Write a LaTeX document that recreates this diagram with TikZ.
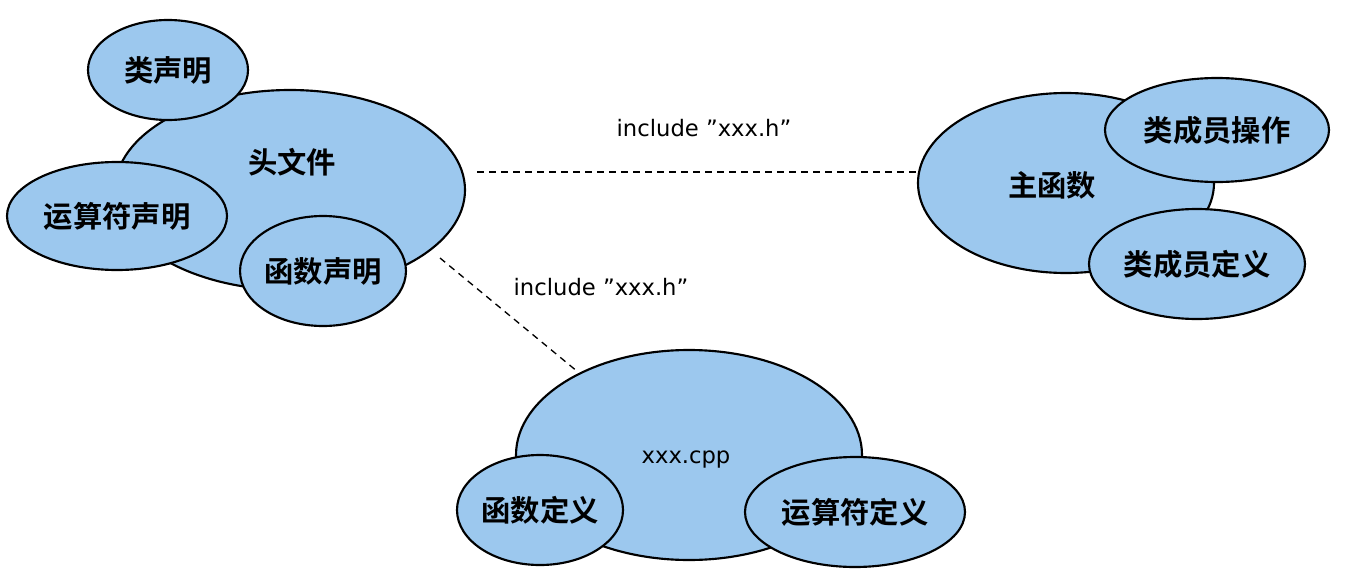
\documentclass[tikz,border=0pt]{standalone}
\usepackage{fontspec}
\newfontfamily\cjk{Noto Sans CJK SC}[BoldFont={Noto Sans CJK SC Bold}]
\setmainfont{DejaVu Sans}
\usetikzlibrary{shapes.geometric}
\definecolor{fillb}{HTML}{9CC8EE}
\begin{document}
\begin{tikzpicture}[x=0.75pt,y=-0.75pt,
  el/.style={ellipse,draw=black,line width=1.6pt,fill=fillb,inner sep=0pt,font=\cjk\bfseries\fontsize{22}{24}\selectfont},
  lbl/.style={font=\fontsize{17}{19}\selectfont},
  dl/.style={dashed,line width=1pt,dash pattern=on 5pt off 4pt}]
\useasboundingbox (0,0) rectangle (1349,585);
\node[el,minimum width=350*0.75pt,minimum height=200*0.75pt] (hdr) at (290,190) {};
\node[font=\cjk\bfseries\fontsize{22}{24}\selectfont] (hdrt) at (292,162) {头文件};
\node[el,minimum width=160*0.75pt,minimum height=100*0.75pt] (cls) at (168,70) {类声明};
\node[el,minimum width=220*0.75pt,minimum height=108*0.75pt] (ops) at (117,216) {运算符声明};
\node[el,minimum width=164*0.75pt,minimum height=110*0.75pt] (fns) at (323,271) {函数声明};

\node[el,minimum width=296*0.75pt,minimum height=180*0.75pt] (main) at (1066,183) {};
\node[font=\cjk\bfseries\fontsize{22}{24}\selectfont] (maint) at (1052,185) {主函数};
\node[el,minimum width=224*0.75pt,minimum height=104*0.75pt] (mop) at (1217,130) {类成员操作};
\node[el,minimum width=216*0.75pt,minimum height=110*0.75pt] (mdef) at (1197,264) {类成员定义};

\node[el,minimum width=346*0.75pt,minimum height=210*0.75pt] (cpp) at (689,455) {};
\node[lbl] (cppt) at (686,460) {xxx.cpp};
\node[el,minimum width=166*0.75pt,minimum height=110*0.75pt] (fdef) at (540,510) {函数定义};
\node[el,minimum width=220*0.75pt,minimum height=110*0.75pt] (odef) at (855,512) {运算符定义};

\coordinate (a1) at (477,172);
\coordinate (a2) at (918,172);
\coordinate (b1) at (440,258);
\coordinate (b2) at (578,372);
\draw[dl] (a1) -- (a2);
\draw[dl] (b1) -- (b2);
\node[lbl] (l1) at (704,128) {include "xxx.h"};
\node[lbl] (l2) at (601,287) {include "xxx.h"};
\end{tikzpicture}
\end{document}
